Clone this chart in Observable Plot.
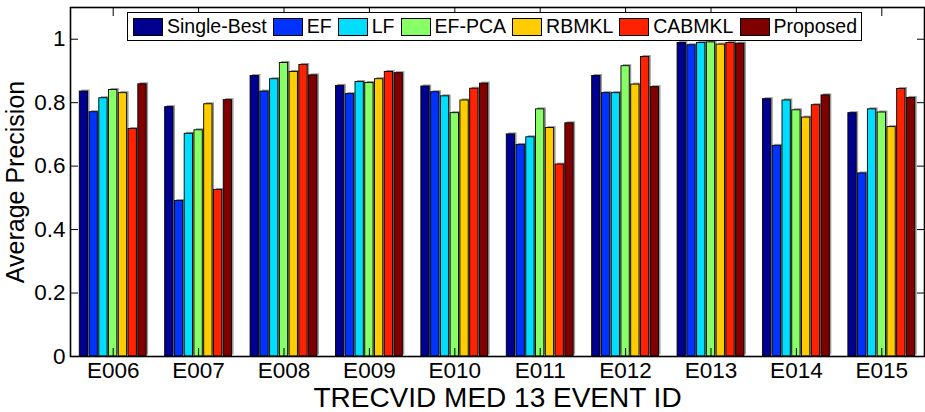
<!DOCTYPE html>
<html>
<head>
<meta charset="utf-8">
<script src="https://cdn.jsdelivr.net/npm/d3@7"></script>
<script src="https://cdn.jsdelivr.net/npm/@observablehq/plot@0.6"></script>
<style>
  body { margin: 0; background: #fff; font-family: "Liberation Sans", Arial, sans-serif; }
  #wrap { position: relative; width: 925px; height: 412px; }
  #legend {
    position: absolute; left: 127px; top: 12px; width: 735px; height: 29px;
    box-sizing: border-box; border: 1.3px solid #000; background: #fff;
    display: flex; align-items: center; justify-content: space-between;
    padding: 0 4px 0 5px; font-size: 19.5px; color: #000;
  }
  .item { display: flex; align-items: center; white-space: nowrap; }
  .sw { width: 30px; height: 18px; box-sizing: border-box; border: 1px solid #000; margin-right: 4px; }
</style>
</head>
<body>
<div id="wrap"><div id="chart"></div><div id="legend"></div></div>
<script>
// ---- data ----
const events = ["E006","E007","E008","E009","E010","E011","E012","E013","E014","E015"];
const methods = ["Single-Best","EF","LF","EF-PCA","RBMKL","CABMKL","Proposed"];
const colors = ["#000090","#0033ff","#00ddff","#88ff66","#ffcc00","#ff2200","#800000"];

const singleBest = [0.835,0.786,0.884,0.853,0.851,0.700,0.884,0.988,0.811,0.767];
const ef         = [0.770,0.490,0.835,0.827,0.833,0.667,0.830,0.981,0.664,0.577];
const lf         = [0.814,0.702,0.874,0.865,0.820,0.691,0.830,0.988,0.807,0.779];
const efPca      = [0.840,0.713,0.925,0.862,0.767,0.779,0.915,0.990,0.776,0.769];
const rbmkl      = [0.830,0.795,0.897,0.874,0.807,0.720,0.857,0.983,0.753,0.723];
const cabmkl     = [0.717,0.525,0.919,0.897,0.844,0.605,0.944,0.988,0.792,0.843];
const proposed   = [0.858,0.808,0.886,0.893,0.860,0.735,0.849,0.986,0.823,0.815];

const yTicks = [0, 0.2, 0.4, 0.6, 0.8, 1];
const yTickLabels = ["0", "0.2", "0.4", "0.6", "0.8", "1"];
const xTitle = "TRECVID MED 13 EVENT ID";
const yTitle = "Average Precision";

// ---- build table ----
const series = [singleBest, ef, lf, efPca, rbmkl, cabmkl, proposed];
const data = [];
series.forEach((vals, mi) => vals.forEach((v, ei) => data.push({event: events[ei], ei, method: methods[mi], mi, value: v})));

const groupWidth = 0.8;                    // fraction of each event slot used by the bars
const step = groupWidth / methods.length;  // slot per bar
const pad = step * 0.075;                  // small gap between bars
const bx1 = d => d.ei + 1 + (d.mi - methods.length / 2) * step + pad;
const bx2 = d => d.ei + 1 + (d.mi + 1 - methods.length / 2) * step - pad;
const xTicks = events.map((e, i) => i + 1);

const chart = Plot.plot({
  width: 925,
  height: 412,
  marginLeft: 70,
  marginRight: 1,
  marginTop: 7,
  marginBottom: 56,
  style: {fontFamily: "'Liberation Sans', Arial, sans-serif", color: "#000", background: "#fff", overflow: "visible"},
  x: {domain: [0.5, events.length + 0.5]},
  y: {domain: [0, 1.1]},
  color: {domain: methods, range: colors},
  marks: [
    // bar shadows
    Plot.rect(data, {x1: bx1, x2: bx2, y1: 0, y2: "value", fill: "#9a9a9a", dx: 2, dy: -1.5}),
    // bars
    Plot.rect(data, {x1: bx1, x2: bx2, y1: 0, y2: "value", fill: "method", stroke: "#000", strokeWidth: 0.9}),
    Plot.axisY(yTicks, {anchor: "left", tickSize: -8, tickPadding: 13, tickFormat: d => yTickLabels[yTicks.indexOf(d)], fontSize: 22.5, label: null}),
    Plot.axisY(yTicks, {anchor: "right", tickSize: -8, tickFormat: () => "", label: null}),
    Plot.axisX(xTicks, {anchor: "bottom", tickSize: -8, tickPadding: 14, tickFormat: i => events[i - 1], fontSize: 22.5, label: null}),
    Plot.axisX(xTicks, {anchor: "top", tickSize: -8, tickFormat: () => "", label: null}),
    Plot.frame({stroke: "#000", strokeWidth: 1.6}),
    Plot.text([xTitle], {text: d => d, frameAnchor: "bottom", lineAnchor: "middle", textAnchor: "middle", dy: 41.5, fontSize: 28, fill: "#000"}),
    Plot.text([yTitle], {text: d => d, frameAnchor: "left", lineAnchor: "middle", textAnchor: "middle", dx: -55, rotate: -90, fontSize: 25, fill: "#000"})
  ]
});
document.getElementById("chart").appendChild(chart);

// ---- legend ----
const legend = document.getElementById("legend");
methods.forEach((m, i) => {
  const item = document.createElement("div");
  item.className = "item";
  const sw = document.createElement("span");
  sw.className = "sw";
  sw.style.background = colors[i];
  const lab = document.createElement("span");
  lab.textContent = m;
  item.appendChild(sw);
  item.appendChild(lab);
  legend.appendChild(item);
});
</script>
</body>
</html>
